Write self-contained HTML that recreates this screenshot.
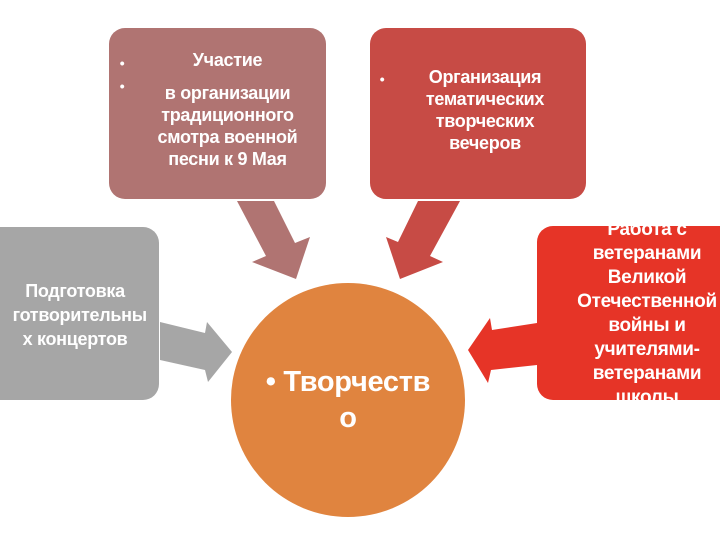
<!DOCTYPE html>
<html><head><meta charset="utf-8"><style>
body{margin:0;width:720px;height:540px;overflow:hidden;background:#fff;position:relative;font-family:"Liberation Sans Narrow","Liberation Sans",sans-serif;font-weight:bold;color:#fff}
.b{position:absolute;border-radius:16px;overflow:hidden}
.t{position:absolute;text-align:center;font-size:19px;line-height:23px;letter-spacing:-0.3px}
</style></head><body>
<svg width="720" height="540" style="position:absolute;left:0;top:0">
<polygon points="237,201 274,201 295,243 310,237 296,279 252,262 266,256" fill="#b07472"/>
<polygon points="418,201 460,201 430,256 443,262 400,279 386,237 398,242" fill="#c74b45"/>
<polygon points="160,322 205,333 207,322 232,352 208,382 205,370 160,360" fill="#a6a6a6"/>
<polygon points="537,323 492,330 490,318 468,350 488,383 491,370 537,365" fill="#e63427"/>
<circle cx="348" cy="400" r="117" fill="#e0843f"/>
</svg>
<div class="b" style="left:-20px;top:227px;width:179px;height:173px;background:#a6a6a6"></div>
<div class="t" style="left:0;top:279px;width:150px;font-size:18px;line-height:24px">Подготовка<br>&nbsp;&nbsp;готворительны<br>х концертов</div>
<div class="b" style="left:109px;top:28px;width:217px;height:171px;background:#b07472"></div>
<div class="t" style="left:112px;top:52px;width:20px;font-size:14px">•<br>•</div>
<div class="t" style="left:140px;top:49px;width:175px;font-size:18px;line-height:22px">Участие<br><span style="display:block;margin-top:11px">в организации традиционного смотра военной песни к 9 Мая</span></div>
<div class="b" style="left:370px;top:28px;width:216px;height:171px;background:#c74b45"></div>
<div class="t" style="left:372px;top:68px;width:20px;font-size:14px">•</div>
<div class="t" style="left:400px;top:66px;width:170px;font-size:18px;line-height:22px">Организация тематических творческих вечеров</div>
<div class="b" style="left:537px;top:226px;width:200px;height:174px;background:#e63427">
<div class="t" style="left:0;top:-13px;width:8px;font-size:14px">•</div>
<div class="t" style="left:34px;top:-8px;width:152px;line-height:24px;font-size:19px">Работа с ветеранами Великой Отечественной войны и учителями-ветеранами школы</div>
</div>
<div class="t" style="left:258px;top:364px;width:180px;font-size:29px;line-height:36px">• Творчеств<br>о</div>
</body></html>
